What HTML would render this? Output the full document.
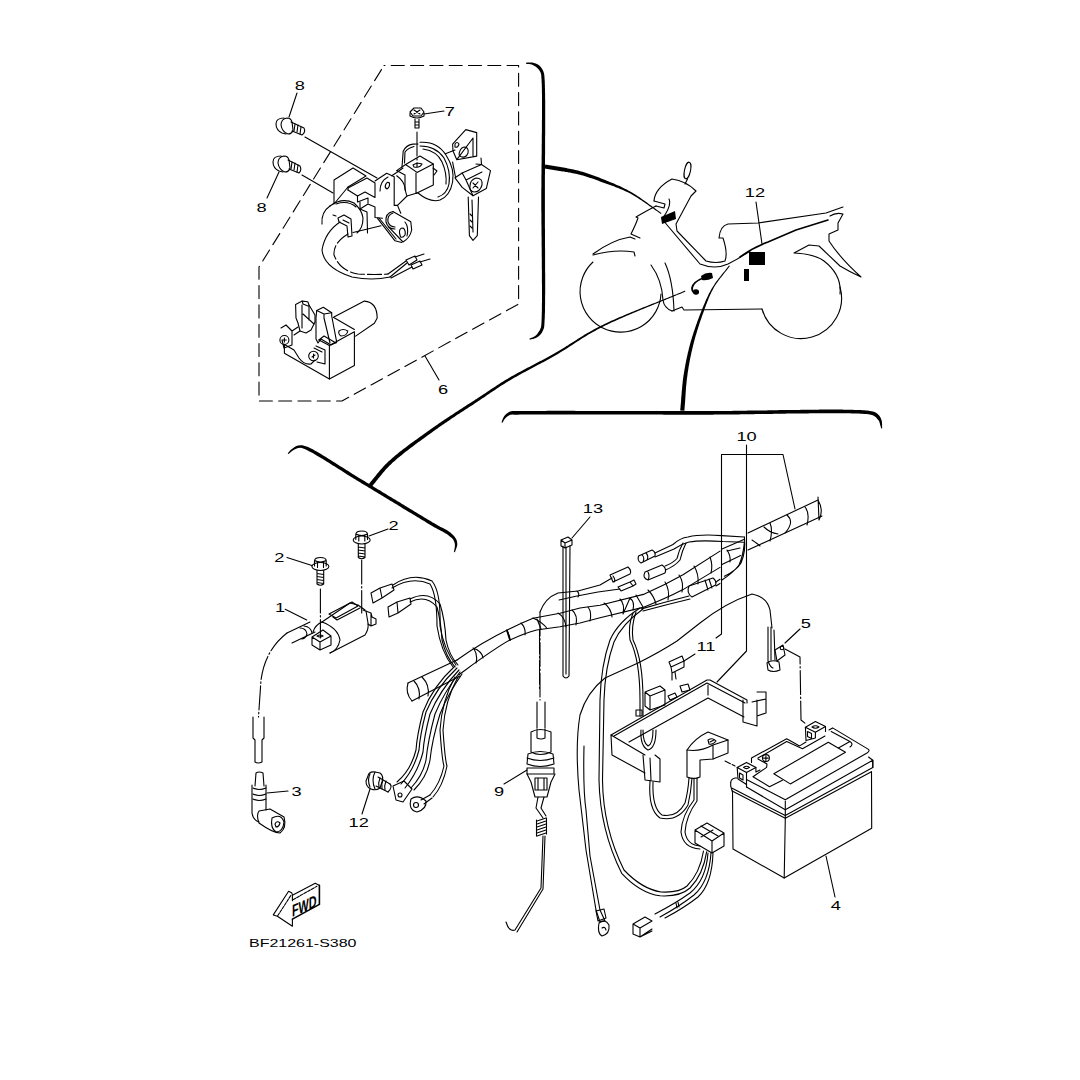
<!DOCTYPE html>
<html><head><meta charset="utf-8">
<style>
html,body{margin:0;padding:0;background:#fff;width:1080px;height:1080px;overflow:hidden}
svg{display:block}
text{font-family:"Liberation Sans",sans-serif;fill:#000}
</style></head><body>
<svg width="1080" height="1080" viewBox="0 0 1080 1080">
<rect width="1080" height="1080" fill="#fff"/>
<g fill="none" stroke="#000" stroke-width="1.1" stroke-linecap="round" stroke-linejoin="round">

<!-- ===== THICK BORDERS & CONNECTORS ===== -->
<g id="thick" fill="#000" stroke="none">
<path d="M526.0,63.7 L527.5,63.9 L529.0,64.0 L530.4,64.2 L531.8,64.6 L533.2,65.2 L534.6,65.9 L535.9,66.8 L537.0,67.7 L538.1,68.7 L539.1,69.9 L539.9,71.2 L540.6,72.6 L541.2,74.8 L541.3,76.1 L541.4,77.9 L541.6,80.1 L541.6,81.4 L541.7,82.9 L541.8,84.5 L541.8,86.3 L541.9,88.3 L541.9,90.4 L541.9,92.6 L542.0,95.0 L542.0,96.2 L542.0,97.4 L542.0,98.7 L542.0,100.1 L542.0,101.4 L542.0,102.8 L542.0,104.2 L542.0,105.6 L542.0,107.0 L542.0,108.5 L542.0,110.0 L542.0,111.5 L542.0,113.1 L542.0,114.6 L542.0,116.2 L542.0,117.8 L542.0,119.4 L541.9,121.0 L541.9,122.7 L541.9,124.4 L541.9,126.0 L541.9,127.7 L541.9,129.4 L541.9,131.1 L541.9,132.9 L541.8,134.6 L541.8,136.3 L541.8,138.1 L541.8,139.9 L541.8,141.6 L541.8,143.4 L541.7,145.2 L541.7,147.0 L541.7,148.8 L541.7,150.6 L541.7,152.3 L541.7,154.1 L541.6,155.9 L541.6,157.7 L541.6,159.5 L541.6,161.3 L541.6,163.1 L541.5,164.9 L541.5,166.7 L541.5,168.4 L541.5,170.2 L541.5,172.0 L541.5,173.7 L541.4,175.5 L541.4,177.2 L541.4,178.9 L541.4,180.6 L541.4,182.3 L541.4,184.0 L541.4,185.7 L541.4,187.4 L541.3,189.0 L541.3,190.6 L541.3,192.2 L541.3,193.8 L541.3,195.4 L541.3,197.0 L541.3,198.5 L541.3,200.0 L541.3,201.5 L541.3,203.0 L541.3,204.6 L541.3,206.2 L541.3,207.8 L541.3,209.4 L541.3,211.0 L541.4,212.6 L541.4,214.3 L541.4,215.9 L541.4,217.6 L541.4,219.3 L541.4,221.0 L541.4,222.7 L541.4,224.5 L541.5,226.2 L541.5,227.9 L541.5,229.7 L541.5,231.5 L541.5,233.2 L541.5,235.0 L541.6,236.8 L541.6,238.5 L541.6,240.3 L541.6,242.1 L541.6,243.9 L541.6,245.7 L541.7,247.5 L541.7,249.2 L541.7,251.0 L541.7,252.8 L541.7,254.6 L541.7,256.4 L541.8,258.1 L541.8,259.9 L541.8,261.6 L541.8,263.4 L541.8,265.1 L541.8,266.8 L541.8,268.6 L541.9,270.3 L541.9,272.0 L541.9,273.7 L541.9,275.3 L541.9,277.0 L541.9,278.6 L541.9,280.3 L541.9,281.9 L541.9,283.5 L542.0,285.0 L542.0,286.6 L542.0,288.1 L542.0,289.6 L542.0,291.1 L542.0,292.6 L542.0,294.1 L542.0,295.5 L542.0,296.9 L542.0,298.3 L542.0,299.6 L542.0,300.9 L542.0,302.2 L541.9,303.5 L541.9,304.7 L541.9,306.0 L541.9,308.3 L541.9,310.5 L541.8,312.5 L541.8,314.4 L541.7,316.2 L541.7,317.8 L541.6,319.3 L541.5,322.0 L541.4,323.8 L541.3,325.1 L541.0,327.3 L539.9,329.9 L539.1,331.3 L538.2,332.6 L537.3,333.9 L536.3,335.1 L535.2,336.0 L533.9,336.7 L532.4,337.4 L530.9,338.1 L529.4,338.8 L529.4,338.8 L529.8,339.8 L531.3,339.3 L532.9,338.9 L534.6,338.4 L536.2,337.8 L537.7,336.9 L539.2,335.8 L540.5,334.5 L541.7,332.9 L542.6,331.3 L543.4,329.6 L543.9,328.1 L544.2,326.8 L544.3,325.4 L544.4,323.9 L544.5,322.2 L544.6,320.1 L544.7,318.7 L544.8,317.1 L544.8,315.4 L544.9,313.6 L545.0,311.6 L545.0,309.4 L545.0,307.2 L545.1,304.8 L545.1,303.5 L545.1,302.3 L545.1,301.0 L545.1,299.6 L545.1,298.3 L545.1,296.9 L545.1,295.5 L545.2,294.1 L545.2,292.6 L545.2,291.1 L545.2,289.6 L545.2,288.1 L545.2,286.6 L545.2,285.0 L545.2,283.4 L545.2,281.9 L545.2,280.2 L545.2,278.6 L545.2,277.0 L545.2,275.3 L545.2,273.6 L545.1,272.0 L545.1,270.3 L545.1,268.5 L545.1,266.8 L545.1,265.1 L545.1,263.4 L545.1,261.6 L545.1,259.9 L545.1,258.1 L545.1,256.3 L545.1,254.6 L545.1,252.8 L545.1,251.0 L545.1,249.2 L545.0,247.4 L545.0,245.7 L545.0,243.9 L545.0,242.1 L545.0,240.3 L545.0,238.5 L545.0,236.7 L545.0,235.0 L545.0,233.2 L545.0,231.4 L545.0,229.7 L544.9,227.9 L544.9,226.2 L544.9,224.4 L544.9,222.7 L544.9,221.0 L544.9,219.3 L544.9,217.6 L544.9,215.9 L544.9,214.3 L544.9,212.6 L544.9,211.0 L544.9,209.4 L544.9,207.7 L544.9,206.2 L544.9,204.6 L544.9,203.0 L544.9,201.5 L544.9,200.0 L544.9,198.5 L544.9,197.0 L544.9,195.4 L544.9,193.8 L544.9,192.2 L544.9,190.6 L544.9,189.0 L544.9,187.4 L544.9,185.7 L544.9,184.0 L544.9,182.4 L544.9,180.7 L544.9,178.9 L544.9,177.2 L544.9,175.5 L545.0,173.7 L545.0,172.0 L545.0,170.2 L545.0,168.5 L545.0,166.7 L545.0,164.9 L545.0,163.1 L545.0,161.3 L545.0,159.6 L545.0,157.8 L545.0,156.0 L545.1,154.2 L545.1,152.4 L545.1,150.6 L545.1,148.8 L545.1,147.0 L545.1,145.2 L545.1,143.4 L545.1,141.7 L545.1,139.9 L545.1,138.1 L545.1,136.4 L545.2,134.6 L545.2,132.9 L545.2,131.2 L545.2,129.4 L545.2,127.7 L545.2,126.0 L545.2,124.4 L545.2,122.7 L545.2,121.1 L545.2,119.4 L545.2,117.8 L545.2,116.2 L545.2,114.6 L545.2,113.1 L545.2,111.5 L545.2,110.0 L545.2,108.5 L545.2,107.0 L545.2,105.6 L545.2,104.2 L545.2,102.8 L545.2,101.4 L545.2,100.0 L545.1,98.7 L545.1,97.4 L545.1,96.2 L545.1,94.9 L545.1,93.7 L545.0,91.4 L545.0,89.2 L544.9,87.2 L544.9,85.3 L544.8,83.6 L544.8,82.0 L544.7,80.5 L544.5,77.7 L544.4,75.9 L544.2,74.4 L543.9,72.9 L543.4,71.4 L542.6,69.7 L541.5,68.1 L540.3,66.6 L539.0,65.3 L537.4,64.3 L535.7,63.6 L534.0,63.0 L532.2,62.6 L530.6,62.5 L529.0,62.5 L527.5,62.6 L526.0,62.7 L526.0,62.7Z"/>
<path d="M544.5,168.6 L546.0,168.8 L547.5,169.1 L549.0,169.3 L550.5,169.5 L552.1,169.8 L553.6,170.0 L555.1,170.2 L556.6,170.5 L558.1,170.7 L559.6,170.9 L561.2,171.2 L562.7,171.4 L564.2,171.6 L565.6,171.9 L567.1,172.1 L568.6,172.4 L570.0,172.6 L571.5,172.9 L572.9,173.2 L574.3,173.5 L575.7,173.8 L577.1,174.1 L578.4,174.4 L580.0,174.8 L581.5,175.2 L583.0,175.6 L584.4,176.1 L585.9,176.5 L587.3,177.0 L588.8,177.4 L590.2,177.9 L591.6,178.3 L593.0,178.8 L594.4,179.3 L595.8,179.8 L597.2,180.3 L598.6,180.8 L600.0,181.4 L601.4,181.9 L602.8,182.4 L604.3,182.9 L605.7,183.4 L607.2,184.0 L608.6,184.5 L610.1,185.0 L611.5,185.5 L613.0,186.1 L614.4,186.6 L615.8,187.2 L617.3,187.7 L618.7,188.3 L620.1,188.9 L621.6,189.5 L623.0,190.1 L624.4,190.8 L625.9,191.4 L627.3,192.1 L628.8,192.8 L630.3,193.6 L631.5,194.3 L632.8,195.0 L634.0,195.7 L635.3,196.4 L636.6,197.2 L637.8,198.0 L639.1,198.9 L640.4,199.7 L641.7,200.5 L642.9,201.4 L644.2,202.3 L645.5,203.2 L646.8,204.1 L648.1,205.0 L649.3,205.9 L650.6,206.8 L651.9,207.7 L653.2,208.6 L654.5,209.5 L655.8,210.4 L657.1,211.3 L658.4,212.2 L659.6,213.1 L660.9,213.9 L660.9,213.9 L661.5,213.1 L660.2,212.2 L659.0,211.3 L657.7,210.4 L656.4,209.5 L655.2,208.6 L653.9,207.7 L652.6,206.7 L651.4,205.8 L650.1,204.9 L648.8,203.9 L647.6,203.0 L646.3,202.1 L645.0,201.2 L643.7,200.3 L642.5,199.4 L641.2,198.5 L639.9,197.6 L638.7,196.8 L637.4,195.9 L636.1,195.1 L634.9,194.3 L633.6,193.5 L632.4,192.7 L631.1,192.0 L629.7,191.2 L628.2,190.4 L626.8,189.6 L625.4,188.9 L623.9,188.2 L622.5,187.5 L621.1,186.8 L619.6,186.1 L618.2,185.5 L616.8,184.9 L615.3,184.2 L613.9,183.6 L612.5,183.0 L611.1,182.5 L609.6,181.9 L608.2,181.3 L606.8,180.7 L605.3,180.1 L603.9,179.5 L602.5,178.9 L601.1,178.4 L599.7,177.8 L598.3,177.3 L596.9,176.7 L595.5,176.2 L594.1,175.7 L592.7,175.2 L591.3,174.7 L589.8,174.2 L588.4,173.7 L586.9,173.2 L585.4,172.7 L584.0,172.3 L582.4,171.8 L580.9,171.4 L579.4,171.0 L578.0,170.6 L576.5,170.2 L575.1,169.9 L573.7,169.6 L572.2,169.3 L570.8,169.0 L569.3,168.7 L567.8,168.4 L566.3,168.1 L564.8,167.8 L563.3,167.6 L561.8,167.3 L560.3,167.0 L558.8,166.8 L557.2,166.5 L555.7,166.3 L554.2,166.0 L552.7,165.8 L551.2,165.5 L549.7,165.2 L548.2,165.0 L546.7,164.7 L545.3,164.4 L545.3,164.4Z"/>
<path d="M371.9,486.5 L372.9,485.3 L373.9,484.1 L374.9,483.0 L375.8,481.8 L376.7,480.6 L377.6,479.5 L378.5,478.3 L379.4,477.2 L380.4,476.0 L381.3,474.9 L382.2,473.7 L383.2,472.6 L384.2,471.4 L385.2,470.3 L386.2,469.1 L387.3,467.9 L388.5,466.7 L389.6,465.6 L390.9,464.4 L391.8,463.5 L392.7,462.6 L393.7,461.7 L394.7,460.9 L395.7,460.0 L396.8,459.1 L397.9,458.1 L399.0,457.2 L400.1,456.3 L401.2,455.4 L402.4,454.4 L403.5,453.5 L404.7,452.6 L405.9,451.6 L407.1,450.7 L408.4,449.7 L409.6,448.8 L410.9,447.8 L412.1,446.9 L413.4,445.9 L414.6,445.0 L415.9,444.0 L417.2,443.1 L418.5,442.1 L419.8,441.2 L421.1,440.3 L422.4,439.3 L423.6,438.4 L424.9,437.4 L426.2,436.5 L427.5,435.6 L428.7,434.7 L430.0,433.8 L431.2,432.9 L432.5,432.0 L433.7,431.1 L434.9,430.2 L436.2,429.3 L437.5,428.4 L438.7,427.5 L440.0,426.6 L441.3,425.7 L442.6,424.8 L443.9,423.9 L445.2,423.0 L446.5,422.2 L447.8,421.3 L449.1,420.4 L450.4,419.5 L451.7,418.6 L453.0,417.8 L454.3,416.9 L455.6,416.0 L456.9,415.1 L458.2,414.3 L459.5,413.4 L460.8,412.6 L462.1,411.7 L463.4,410.9 L464.7,410.1 L465.9,409.2 L467.2,408.4 L468.5,407.6 L469.7,406.8 L470.9,406.0 L472.2,405.2 L473.4,404.4 L474.6,403.6 L475.8,402.8 L477.0,402.0 L478.1,401.2 L479.3,400.5 L480.7,399.5 L482.0,398.6 L483.4,397.7 L484.7,396.9 L485.9,396.0 L487.2,395.1 L488.4,394.3 L489.6,393.5 L490.9,392.6 L492.1,391.8 L493.3,391.0 L494.5,390.2 L495.7,389.4 L496.9,388.6 L498.1,387.8 L499.3,387.0 L500.6,386.1 L501.9,385.3 L503.2,384.5 L504.5,383.7 L505.8,382.8 L507.2,382.0 L508.7,381.1 L509.8,380.4 L511.0,379.7 L512.2,379.0 L513.4,378.3 L514.6,377.6 L515.9,376.9 L517.1,376.2 L518.4,375.5 L519.7,374.8 L521.0,374.1 L522.3,373.3 L523.6,372.6 L525.0,371.9 L526.3,371.2 L527.6,370.5 L529.0,369.7 L530.4,369.0 L531.7,368.3 L533.1,367.5 L534.5,366.8 L535.9,366.1 L537.2,365.3 L538.6,364.6 L540.0,363.9 L541.4,363.1 L542.7,362.4 L544.1,361.7 L545.5,360.9 L546.8,360.2 L548.2,359.4 L549.5,358.7 L550.9,357.9 L552.2,357.2 L553.5,356.4 L554.8,355.7 L556.1,354.9 L557.5,354.2 L558.8,353.4 L560.1,352.6 L561.4,351.8 L562.6,351.0 L563.9,350.2 L565.2,349.5 L566.4,348.7 L567.6,347.9 L568.9,347.1 L570.1,346.3 L571.3,345.5 L572.5,344.7 L573.7,343.9 L575.0,343.1 L576.2,342.3 L577.4,341.5 L578.7,340.7 L579.9,339.9 L581.2,339.1 L582.4,338.3 L583.7,337.5 L585.0,336.7 L586.3,335.9 L587.6,335.1 L588.9,334.3 L590.3,333.5 L591.7,332.8 L593.0,332.0 L594.5,331.2 L595.9,330.4 L597.4,329.6 L598.9,328.8 L600.4,328.0 L601.6,327.4 L602.7,326.8 L603.9,326.2 L605.1,325.6 L606.3,325.0 L607.6,324.4 L608.8,323.8 L610.1,323.2 L611.3,322.6 L612.6,322.0 L613.9,321.5 L615.2,320.9 L616.5,320.3 L617.9,319.7 L619.2,319.1 L620.5,318.5 L621.9,317.9 L623.3,317.3 L624.7,316.7 L626.0,316.1 L627.4,315.5 L628.8,314.9 L630.2,314.3 L631.7,313.7 L633.1,313.1 L634.5,312.5 L635.9,311.9 L637.4,311.3 L638.8,310.7 L640.3,310.1 L641.7,309.5 L643.2,308.9 L644.7,308.3 L646.1,307.7 L647.6,307.1 L649.1,306.5 L650.5,305.9 L652.0,305.3 L653.5,304.7 L655.0,304.1 L656.4,303.5 L657.9,302.9 L659.4,302.3 L660.9,301.7 L662.3,301.1 L663.8,300.5 L665.3,299.9 L666.7,299.3 L668.2,298.7 L669.7,298.1 L671.1,297.5 L672.6,296.9 L674.0,296.3 L675.5,295.7 L676.9,295.1 L678.3,294.6 L679.8,294.0 L681.2,293.4 L682.6,292.8 L684.0,292.2 L685.4,291.6 L685.4,291.6 L685.0,290.6 L683.6,291.2 L682.2,291.8 L680.8,292.4 L679.4,293.0 L677.9,293.6 L676.5,294.2 L675.0,294.7 L673.6,295.3 L672.1,295.9 L670.7,296.5 L669.2,297.1 L667.8,297.7 L666.3,298.3 L664.8,298.8 L663.4,299.4 L661.9,300.0 L660.4,300.6 L658.9,301.2 L657.4,301.8 L656.0,302.4 L654.5,303.0 L653.0,303.5 L651.5,304.1 L650.0,304.7 L648.6,305.3 L647.1,305.9 L645.6,306.5 L644.2,307.1 L642.7,307.6 L641.2,308.2 L639.8,308.8 L638.3,309.4 L636.9,310.0 L635.4,310.6 L634.0,311.2 L632.5,311.8 L631.1,312.3 L629.7,312.9 L628.3,313.5 L626.8,314.1 L625.4,314.7 L624.1,315.3 L622.7,315.9 L621.3,316.5 L619.9,317.0 L618.6,317.6 L617.2,318.2 L615.9,318.8 L614.6,319.4 L613.2,320.0 L611.9,320.6 L610.6,321.1 L609.4,321.7 L608.1,322.3 L606.8,322.9 L605.6,323.5 L604.4,324.1 L603.2,324.7 L602.0,325.2 L600.8,325.8 L599.6,326.4 L598.1,327.2 L596.5,328.0 L595.1,328.8 L593.6,329.6 L592.2,330.4 L590.7,331.2 L589.4,332.0 L588.0,332.8 L586.6,333.5 L585.3,334.3 L584.0,335.1 L582.7,335.9 L581.4,336.7 L580.1,337.5 L578.9,338.3 L577.6,339.1 L576.4,339.9 L575.1,340.7 L573.9,341.4 L572.7,342.2 L571.4,343.0 L570.2,343.8 L569.0,344.6 L567.8,345.4 L566.5,346.1 L565.3,346.9 L564.0,347.7 L562.8,348.5 L561.5,349.2 L560.3,350.0 L559.0,350.8 L557.7,351.5 L556.4,352.3 L555.1,353.1 L553.8,353.8 L552.5,354.5 L551.1,355.3 L549.8,356.0 L548.5,356.7 L547.1,357.5 L545.8,358.2 L544.4,358.9 L543.0,359.7 L541.7,360.4 L540.3,361.1 L538.9,361.8 L537.5,362.6 L536.1,363.3 L534.8,364.0 L533.4,364.7 L532.0,365.5 L530.6,366.2 L529.3,366.9 L527.9,367.6 L526.5,368.3 L525.2,369.1 L523.8,369.8 L522.5,370.5 L521.1,371.2 L519.8,371.9 L518.5,372.6 L517.2,373.3 L515.9,374.0 L514.6,374.7 L513.4,375.4 L512.1,376.1 L510.9,376.8 L509.7,377.5 L508.5,378.2 L507.3,378.9 L505.9,379.8 L504.5,380.6 L503.1,381.5 L501.8,382.3 L500.5,383.1 L499.2,383.9 L497.9,384.7 L496.7,385.5 L495.4,386.4 L494.2,387.2 L493.0,388.0 L491.8,388.8 L490.6,389.6 L489.3,390.4 L488.1,391.2 L486.9,392.0 L485.7,392.9 L484.4,393.7 L483.1,394.6 L481.8,395.4 L480.5,396.3 L479.1,397.2 L477.7,398.1 L476.6,398.9 L475.4,399.6 L474.2,400.4 L473.0,401.2 L471.8,402.0 L470.6,402.7 L469.4,403.5 L468.1,404.3 L466.9,405.1 L465.6,406.0 L464.3,406.8 L463.1,407.6 L461.8,408.4 L460.5,409.3 L459.2,410.1 L457.9,410.9 L456.6,411.8 L455.3,412.6 L454.0,413.5 L452.6,414.4 L451.3,415.2 L450.0,416.1 L448.7,417.0 L447.4,417.8 L446.0,418.7 L444.7,419.6 L443.4,420.5 L442.1,421.3 L440.8,422.2 L439.5,423.1 L438.2,424.0 L436.9,424.9 L435.6,425.8 L434.3,426.7 L433.1,427.6 L431.8,428.5 L430.6,429.3 L429.3,430.2 L428.1,431.1 L426.8,432.0 L425.5,432.9 L424.3,433.8 L423.0,434.7 L421.7,435.7 L420.4,436.6 L419.1,437.5 L417.8,438.4 L416.5,439.4 L415.2,440.3 L413.9,441.3 L412.6,442.2 L411.3,443.1 L410.0,444.1 L408.7,445.0 L407.5,446.0 L406.2,446.9 L405.0,447.9 L403.7,448.8 L402.5,449.8 L401.3,450.7 L400.1,451.6 L398.9,452.6 L397.8,453.5 L396.6,454.4 L395.5,455.3 L394.4,456.3 L393.3,457.2 L392.3,458.1 L391.3,459.0 L390.3,459.9 L389.3,460.8 L388.3,461.6 L387.0,462.9 L385.8,464.1 L384.6,465.3 L383.4,466.5 L382.4,467.7 L381.3,468.9 L380.3,470.1 L379.3,471.3 L378.3,472.4 L377.3,473.6 L376.4,474.7 L375.5,475.9 L374.6,477.0 L373.6,478.2 L372.7,479.3 L371.8,480.5 L370.8,481.6 L369.9,482.7 L368.9,483.9 L368.9,483.9Z"/>
<path d="M684.4,410.8 L684.5,409.3 L684.6,407.7 L684.7,406.2 L684.8,404.7 L685.0,403.2 L685.1,401.6 L685.2,400.1 L685.3,398.6 L685.4,397.1 L685.5,395.6 L685.6,394.0 L685.7,392.5 L685.8,391.0 L685.9,389.5 L686.0,388.0 L686.1,386.5 L686.3,385.0 L686.4,383.5 L686.6,382.0 L686.7,380.6 L686.9,379.1 L687.1,377.6 L687.3,376.2 L687.5,374.6 L687.7,373.1 L687.9,371.6 L688.2,370.1 L688.4,368.6 L688.6,367.1 L688.9,365.6 L689.2,364.1 L689.4,362.6 L689.7,361.1 L690.0,359.6 L690.3,358.1 L690.6,356.6 L690.9,355.2 L691.2,353.7 L691.5,352.2 L691.9,350.7 L692.2,349.3 L692.6,347.8 L692.9,346.3 L693.3,344.8 L693.6,343.4 L694.0,341.9 L694.4,340.5 L694.8,339.0 L695.2,337.6 L695.6,336.1 L696.0,334.7 L696.5,333.2 L696.9,331.8 L697.3,330.3 L697.8,328.9 L698.2,327.4 L698.7,326.0 L699.2,324.5 L699.6,323.1 L700.1,321.7 L700.6,320.3 L701.1,318.9 L701.6,317.5 L702.1,316.1 L702.5,314.8 L703.0,313.4 L703.6,311.9 L704.1,310.4 L704.6,309.0 L705.2,307.5 L705.7,306.1 L706.2,304.6 L706.8,303.2 L707.3,301.8 L707.9,300.4 L708.4,299.0 L709.0,297.6 L709.6,296.2 L710.2,294.8 L710.9,293.5 L711.5,292.1 L712.2,290.8 L712.9,289.5 L713.6,288.1 L714.3,286.8 L715.1,285.5 L715.9,284.3 L716.8,283.0 L717.7,281.8 L718.6,280.5 L719.5,279.3 L720.4,278.1 L721.4,276.9 L722.3,275.7 L723.3,274.5 L724.2,273.3 L725.2,272.1 L726.1,270.9 L727.1,269.7 L728.0,268.5 L729.0,267.2 L729.9,266.0 L729.9,266.0 L729.1,265.4 L728.2,266.6 L727.2,267.8 L726.3,269.0 L725.3,270.2 L724.4,271.4 L723.4,272.6 L722.4,273.8 L721.4,275.0 L720.5,276.2 L719.5,277.4 L718.6,278.6 L717.6,279.9 L716.7,281.1 L715.8,282.3 L714.9,283.6 L714.1,284.9 L713.2,286.2 L712.4,287.5 L711.6,288.8 L710.9,290.1 L710.1,291.4 L709.4,292.8 L708.7,294.1 L708.1,295.5 L707.4,296.9 L706.8,298.2 L706.1,299.6 L705.5,301.0 L704.9,302.4 L704.3,303.9 L703.7,305.3 L703.1,306.7 L702.5,308.2 L701.9,309.6 L701.4,311.1 L700.8,312.6 L700.2,313.9 L699.7,315.3 L699.2,316.6 L698.7,318.0 L698.1,319.4 L697.6,320.8 L697.1,322.2 L696.6,323.7 L696.1,325.1 L695.6,326.5 L695.1,328.0 L694.6,329.4 L694.1,330.9 L693.6,332.3 L693.2,333.8 L692.7,335.3 L692.2,336.7 L691.8,338.2 L691.4,339.6 L690.9,341.1 L690.5,342.5 L690.1,344.0 L689.7,345.5 L689.3,347.0 L688.9,348.5 L688.6,349.9 L688.2,351.4 L687.8,352.9 L687.5,354.4 L687.2,355.9 L686.8,357.4 L686.5,358.9 L686.2,360.4 L685.9,361.9 L685.6,363.4 L685.3,364.9 L685.1,366.4 L684.8,368.0 L684.5,369.5 L684.3,371.0 L684.0,372.5 L683.8,374.1 L683.5,375.6 L683.3,377.1 L683.1,378.6 L682.9,380.1 L682.7,381.6 L682.6,383.1 L682.4,384.6 L682.3,386.1 L682.1,387.7 L682.0,389.2 L681.8,390.7 L681.7,392.2 L681.6,393.7 L681.5,395.3 L681.3,396.8 L681.2,398.3 L681.1,399.8 L681.0,401.4 L680.9,402.9 L680.7,404.4 L680.6,405.9 L680.5,407.4 L680.3,408.9 L680.2,410.4 L680.2,410.4Z"/>
<path d="M288.5,454.1 L289.8,452.9 L291.1,451.7 L292.5,450.7 L294.0,449.8 L295.6,448.9 L297.2,448.3 L298.8,447.9 L300.3,447.8 L301.8,448.0 L304.0,448.7 L305.2,449.2 L306.8,450.0 L308.5,450.9 L310.5,451.9 L311.6,452.5 L312.7,453.1 L313.8,453.8 L315.0,454.5 L316.2,455.2 L317.5,455.9 L318.8,456.7 L320.1,457.4 L321.4,458.3 L322.8,459.1 L324.2,459.9 L325.6,460.8 L327.0,461.7 L328.5,462.6 L329.9,463.5 L331.4,464.4 L332.9,465.4 L334.4,466.3 L335.9,467.3 L337.4,468.2 L338.9,469.2 L340.4,470.1 L341.9,471.1 L343.4,472.0 L344.9,473.0 L346.4,473.9 L347.9,474.9 L349.3,475.8 L350.8,476.7 L352.2,477.6 L353.7,478.5 L355.1,479.3 L356.5,480.2 L357.8,481.0 L359.1,481.8 L360.4,482.6 L361.7,483.4 L363.1,484.2 L364.4,485.0 L365.8,485.8 L367.1,486.6 L368.5,487.5 L369.9,488.3 L371.3,489.1 L372.7,490.0 L374.2,490.9 L375.6,491.7 L377.0,492.6 L378.4,493.5 L379.9,494.3 L381.3,495.2 L382.8,496.1 L384.2,496.9 L385.6,497.8 L387.1,498.7 L388.5,499.5 L389.9,500.4 L391.3,501.3 L392.7,502.1 L394.1,503.0 L395.5,503.8 L396.9,504.6 L398.3,505.5 L399.6,506.3 L400.9,507.1 L402.2,507.9 L403.5,508.7 L404.8,509.4 L406.1,510.2 L407.3,511.0 L408.5,511.7 L409.7,512.4 L410.9,513.1 L412.0,513.8 L413.1,514.5 L414.2,515.1 L415.3,515.8 L417.3,517.0 L419.1,518.1 L420.9,519.2 L422.6,520.2 L424.1,521.1 L425.6,522.0 L427.0,522.9 L428.3,523.7 L429.6,524.5 L430.9,525.2 L432.2,526.0 L433.4,526.7 L434.6,527.4 L435.9,528.1 L437.4,529.0 L439.0,529.8 L440.4,530.5 L441.9,531.3 L443.2,532.0 L444.5,532.7 L445.7,533.4 L446.8,534.1 L448.4,535.3 L449.8,536.4 L451.2,537.5 L452.3,538.6 L453.2,539.6 L454.0,541.2 L454.6,542.7 L454.9,544.5 L454.9,545.7 L454.8,547.2 L454.5,548.8 L454.2,550.4 L453.9,552.1 L453.9,552.1 L454.9,552.3 L455.4,550.8 L456.0,549.2 L456.6,547.6 L457.1,546.0 L457.3,544.3 L457.1,542.2 L456.6,540.1 L455.6,538.2 L454.6,536.7 L453.3,535.3 L451.9,533.9 L450.4,532.6 L448.8,531.5 L447.5,530.6 L446.1,529.8 L444.8,529.0 L443.4,528.3 L441.9,527.6 L440.5,526.9 L439.0,526.1 L437.5,525.3 L436.3,524.6 L435.1,523.8 L433.8,523.1 L432.6,522.4 L431.3,521.6 L430.0,520.8 L428.7,520.0 L427.3,519.2 L425.8,518.3 L424.3,517.4 L422.6,516.3 L420.9,515.3 L419.0,514.2 L417.0,512.9 L415.9,512.3 L414.8,511.7 L413.7,511.0 L412.6,510.3 L411.4,509.6 L410.2,508.9 L409.0,508.1 L407.8,507.4 L406.5,506.6 L405.3,505.9 L404.0,505.1 L402.6,504.3 L401.3,503.5 L400.0,502.6 L398.6,501.8 L397.2,501.0 L395.8,500.1 L394.4,499.3 L393.0,498.4 L391.6,497.6 L390.2,496.7 L388.8,495.9 L387.3,495.0 L385.9,494.1 L384.5,493.2 L383.0,492.4 L381.6,491.5 L380.2,490.6 L378.7,489.8 L377.3,488.9 L375.9,488.0 L374.4,487.2 L373.0,486.3 L371.6,485.5 L370.2,484.6 L368.8,483.8 L367.5,483.0 L366.1,482.2 L364.8,481.3 L363.4,480.5 L362.1,479.8 L360.9,479.0 L359.5,478.2 L358.2,477.4 L356.8,476.5 L355.4,475.7 L354.0,474.8 L352.5,473.9 L351.1,473.0 L349.6,472.1 L348.2,471.1 L346.7,470.2 L345.2,469.3 L343.7,468.3 L342.2,467.3 L340.7,466.4 L339.1,465.4 L337.6,464.5 L336.1,463.5 L334.6,462.6 L333.2,461.7 L331.7,460.7 L330.2,459.8 L328.8,458.9 L327.3,458.0 L325.9,457.1 L324.5,456.3 L323.1,455.4 L321.8,454.6 L320.5,453.8 L319.2,453.1 L317.9,452.3 L316.7,451.6 L315.5,450.9 L314.3,450.2 L313.2,449.6 L312.1,449.0 L310.0,448.0 L308.1,447.1 L306.4,446.4 L304.8,445.9 L302.3,445.3 L300.3,445.2 L298.2,445.5 L296.4,446.1 L294.6,447.1 L293.0,448.2 L291.5,449.3 L290.1,450.6 L288.9,452.0 L287.7,453.3 L287.7,453.3Z"/>
<path d="M502.3,422.8 L503.2,421.4 L504.0,420.0 L504.9,418.8 L505.9,417.7 L506.9,416.8 L508.1,415.9 L509.3,415.2 L510.5,414.8 L512.7,414.6 L514.3,414.7 L516.7,414.7 L518.3,414.7 L519.6,414.6 L520.9,414.6 L522.4,414.6 L524.0,414.6 L525.7,414.6 L527.5,414.5 L529.5,414.5 L531.5,414.5 L533.7,414.5 L535.9,414.5 L538.2,414.5 L539.5,414.5 L540.7,414.5 L541.9,414.5 L543.2,414.5 L544.5,414.5 L545.8,414.5 L547.2,414.4 L548.5,414.4 L549.9,414.4 L551.3,414.4 L552.7,414.4 L554.2,414.4 L555.6,414.4 L557.1,414.4 L558.6,414.4 L560.1,414.4 L561.6,414.4 L563.2,414.4 L564.7,414.4 L566.3,414.4 L567.9,414.4 L569.5,414.4 L571.1,414.4 L572.7,414.4 L574.4,414.4 L576.0,414.5 L577.7,414.5 L579.4,414.5 L581.1,414.5 L582.8,414.5 L584.5,414.5 L586.2,414.5 L587.9,414.5 L589.7,414.5 L591.4,414.5 L593.2,414.5 L595.0,414.5 L596.7,414.5 L598.5,414.5 L600.3,414.5 L602.1,414.5 L603.9,414.5 L605.7,414.5 L607.5,414.5 L609.3,414.5 L611.2,414.5 L613.0,414.5 L614.8,414.5 L616.6,414.5 L618.5,414.5 L620.3,414.5 L622.2,414.5 L624.0,414.6 L625.8,414.6 L627.7,414.6 L629.5,414.6 L631.4,414.6 L633.2,414.6 L635.1,414.6 L636.9,414.6 L638.7,414.6 L640.6,414.6 L642.4,414.6 L644.2,414.6 L646.1,414.6 L647.9,414.6 L649.7,414.6 L651.5,414.6 L653.3,414.6 L655.1,414.6 L656.9,414.6 L658.7,414.6 L660.5,414.6 L662.2,414.6 L664.0,414.7 L665.8,414.7 L667.5,414.7 L669.3,414.7 L671.0,414.7 L672.7,414.7 L674.4,414.7 L676.1,414.7 L677.8,414.7 L679.5,414.7 L681.1,414.7 L682.8,414.7 L684.4,414.7 L686.0,414.7 L687.7,414.7 L689.3,414.7 L690.8,414.7 L692.4,414.7 L694.0,414.7 L695.5,414.7 L697.0,414.7 L698.5,414.7 L700.0,414.7 L701.5,414.7 L703.1,414.7 L704.7,414.7 L706.3,414.7 L707.9,414.7 L709.5,414.7 L711.1,414.7 L712.8,414.7 L714.4,414.6 L716.1,414.6 L717.8,414.6 L719.5,414.6 L721.2,414.6 L722.9,414.6 L724.7,414.5 L726.4,414.5 L728.2,414.5 L729.9,414.5 L731.7,414.5 L733.5,414.4 L735.3,414.4 L737.1,414.4 L738.9,414.4 L740.7,414.3 L742.5,414.3 L744.3,414.3 L746.2,414.3 L748.0,414.2 L749.8,414.2 L751.7,414.2 L753.5,414.2 L755.4,414.1 L757.2,414.1 L759.1,414.1 L761.0,414.0 L762.8,414.0 L764.7,414.0 L766.5,414.0 L768.4,413.9 L770.2,413.9 L772.1,413.9 L773.9,413.8 L775.8,413.8 L777.6,413.8 L779.5,413.7 L781.3,413.7 L783.2,413.7 L785.0,413.7 L786.8,413.6 L788.6,413.6 L790.4,413.6 L792.3,413.6 L794.1,413.5 L795.8,413.5 L797.6,413.5 L799.4,413.5 L801.2,413.4 L802.9,413.4 L804.7,413.4 L806.4,413.4 L808.1,413.4 L809.8,413.3 L811.5,413.3 L813.2,413.3 L814.9,413.3 L816.6,413.3 L818.2,413.3 L819.8,413.2 L821.5,413.2 L823.1,413.2 L824.7,413.2 L826.2,413.2 L827.8,413.2 L829.3,413.2 L830.8,413.2 L832.3,413.2 L833.8,413.2 L835.3,413.2 L836.7,413.2 L838.1,413.2 L839.5,413.2 L840.9,413.2 L842.3,413.2 L843.6,413.3 L844.9,413.3 L846.2,413.3 L847.5,413.3 L848.7,413.3 L849.9,413.3 L852.3,413.4 L854.5,413.5 L856.7,413.5 L858.7,413.6 L860.6,413.7 L862.4,413.8 L864.1,413.9 L865.6,414.0 L867.0,414.1 L868.3,414.3 L869.9,414.5 L872.8,415.2 L874.9,416.4 L875.9,417.3 L876.8,418.3 L877.8,419.4 L878.7,420.6 L879.3,421.8 L879.8,423.3 L880.2,425.0 L880.7,426.7 L881.2,428.4 L881.2,428.4 L882.2,428.2 L882.1,426.5 L882.1,424.7 L882.0,422.9 L881.8,421.1 L881.3,419.4 L880.6,417.7 L879.6,416.1 L878.4,414.7 L877.1,413.6 L875.6,412.5 L873.9,411.8 L871.5,411.2 L869.9,410.9 L868.7,410.7 L867.4,410.6 L865.9,410.4 L864.3,410.3 L862.6,410.2 L860.8,410.1 L858.9,410.0 L856.8,409.9 L854.7,409.9 L852.4,409.8 L850.0,409.7 L848.8,409.7 L847.5,409.7 L846.3,409.7 L845.0,409.7 L843.7,409.7 L842.3,409.6 L840.9,409.6 L839.6,409.6 L838.2,409.6 L836.7,409.6 L835.3,409.6 L833.8,409.6 L832.3,409.6 L830.8,409.6 L829.3,409.6 L827.8,409.6 L826.2,409.6 L824.6,409.6 L823.1,409.6 L821.4,409.6 L819.8,409.6 L818.2,409.7 L816.5,409.7 L814.9,409.7 L813.2,409.7 L811.5,409.7 L809.8,409.7 L808.1,409.8 L806.4,409.8 L804.6,409.8 L802.9,409.8 L801.1,409.8 L799.4,409.9 L797.6,409.9 L795.8,409.9 L794.0,409.9 L792.2,410.0 L790.4,410.0 L788.6,410.0 L786.8,410.0 L784.9,410.1 L783.1,410.1 L781.3,410.1 L779.4,410.1 L777.6,410.2 L775.7,410.2 L773.9,410.2 L772.0,410.3 L770.2,410.3 L768.3,410.3 L766.5,410.4 L764.6,410.4 L762.8,410.4 L760.9,410.4 L759.0,410.5 L757.2,410.5 L755.3,410.5 L753.5,410.6 L751.6,410.6 L749.8,410.6 L748.0,410.6 L746.1,410.7 L744.3,410.7 L742.5,410.7 L740.6,410.7 L738.8,410.8 L737.0,410.8 L735.2,410.8 L733.4,410.8 L731.7,410.9 L729.9,410.9 L728.1,410.9 L726.4,410.9 L724.6,410.9 L722.9,411.0 L721.2,411.0 L719.5,411.0 L717.8,411.0 L716.1,411.0 L714.4,411.0 L712.7,411.1 L711.1,411.1 L709.5,411.1 L707.8,411.1 L706.2,411.1 L704.7,411.1 L703.1,411.1 L701.5,411.1 L700.0,411.1 L698.5,411.1 L697.0,411.1 L695.5,411.1 L694.0,411.1 L692.4,411.1 L690.8,411.1 L689.3,411.1 L687.7,411.1 L686.1,411.1 L684.4,411.1 L682.8,411.1 L681.1,411.1 L679.5,411.1 L677.8,411.1 L676.1,411.1 L674.4,411.1 L672.7,411.1 L671.0,411.1 L669.3,411.1 L667.5,411.1 L665.8,411.1 L664.0,411.1 L662.2,411.0 L660.5,411.0 L658.7,411.0 L656.9,411.0 L655.1,411.0 L653.3,411.0 L651.5,411.0 L649.7,411.0 L647.9,411.0 L646.1,411.0 L644.2,411.0 L642.4,411.0 L640.6,411.0 L638.7,411.0 L636.9,411.0 L635.1,411.0 L633.2,411.0 L631.4,411.0 L629.5,411.0 L627.7,411.0 L625.9,411.0 L624.0,411.0 L622.2,410.9 L620.3,410.9 L618.5,410.9 L616.7,410.9 L614.8,410.9 L613.0,410.9 L611.2,410.9 L609.3,410.9 L607.5,410.9 L605.7,410.9 L603.9,410.9 L602.1,410.9 L600.3,410.9 L598.5,410.9 L596.7,410.9 L595.0,410.9 L593.2,410.9 L591.4,410.9 L589.7,410.9 L587.9,410.9 L586.2,410.9 L584.5,410.9 L582.8,410.9 L581.1,410.9 L579.4,410.9 L577.7,410.9 L576.0,410.9 L574.4,410.8 L572.7,410.8 L571.1,410.8 L569.5,410.8 L567.9,410.8 L566.3,410.8 L564.7,410.8 L563.2,410.8 L561.6,410.8 L560.1,410.8 L558.6,410.8 L557.1,410.8 L555.6,410.8 L554.2,410.8 L552.7,410.8 L551.3,410.8 L549.9,410.8 L548.5,410.8 L547.2,410.8 L545.8,410.9 L544.5,410.9 L543.2,410.9 L541.9,410.9 L540.7,410.9 L539.4,410.9 L538.2,410.9 L535.9,410.9 L533.6,410.9 L531.5,410.9 L529.4,410.9 L527.5,410.9 L525.7,411.0 L523.9,411.0 L522.3,411.0 L520.9,411.0 L519.5,411.0 L518.3,411.1 L516.7,411.1 L514.4,411.1 L512.7,411.1 L511.1,411.3 L509.5,411.8 L507.9,412.7 L506.5,413.7 L505.2,415.0 L504.1,416.3 L503.3,417.8 L502.6,419.3 L502.0,420.9 L501.5,422.4 L501.5,422.4Z"/>
</g>


<!-- ===== DASHED BOX 6 ===== -->
<path d="M384,65.5 L518.6,65.5 L518.6,304 L342,401 L259,401 L259,267 Z" stroke-dasharray="13,6.3" stroke-dashoffset="12"/>

<!-- ===== SCOOTER ===== -->
<g id="scooter">
<!-- front wheel -->
<path d="M593,262 A40.5,40.5 0 1 0 661,294"/>
<!-- rear wheel -->
<path d="M840,287 A40.5,40.5 0 1 1 762,309"/>
<!-- bottom line -->
<path d="M672,311 L682,307 L684,310 L762,309"/>
<!-- fork -->
<path d="M651,265 Q662,280 663,300 Q664,308 672,311"/>
<path d="M665,263 Q673,280 674,311"/>
<!-- front fender -->
<path d="M593,254 Q612,240 630,237 L635,239"/>
<path d="M593,255 Q615,249 634,252 L635,256"/>
<!-- cowl -->
<path d="M631,234 L640,238 M631,234 Q636,224 638,218 L636,217 Q648,210 656,206"/>
<!-- headlight cover -->
<path d="M654,201 Q655,188 672,179 Q686,181 696,191 L691,196 L676,224 L677,231 L706,261 Q716,264 725,261 Q728,253 723,238 L719,238 Q720,226 728,224 L758,223 L826,213 L843,207"/>
<path d="M654,201 L665,204 L664,208 L656,206"/>
<path d="M669,199 Q672,206 662,219 L700,264 Q715,270 728,264 Q740,258 750,251"/>
<path d="M740,257 Q752,248 768,242 L796,230 L828,220" stroke-width="1.6"/>
<path d="M687.5,179 L685,184"/><ellipse cx="687.5" cy="170.5" rx="3" ry="8.5" transform="rotate(12 687.5 170.5)"/>
<!-- tail -->
<path d="M830,216 Q836,212 843,214 L838,223 L838,230 L829,234 L829,241 Q840,258 861,277 Q850,272 840,266 L819,246 L809,245 L794,253 Q815,254 824,261 Q842,275 840,294"/>
<!-- marks -->
<path d="M687,290 L700,277" stroke-width="0"/>
</g>
<g fill="#000" stroke="none">
<rect x="749" y="252" width="16" height="13"/>
<rect x="744" y="269" width="5" height="12"/>
<path d="M661,217 L675,211 L676,219 L662,224 Z"/>
<path d="M701,276 Q706,272 712,273 L713,278 Q707,281 702,280 Z"/>
</g>
<path d="M703,278 Q693,282 692,288 Q692,292 695,293" stroke-width="1.8"/><ellipse cx="696" cy="292" rx="2.5" ry="2.2" fill="#000"/>
<path d="M756,202 L762,244"/>

<!-- ===== IGNITION SWITCH AREA ===== -->
<g id="switch">
<!-- bolts 8 -->
<path d="M297,93 L289,117"/>
<path d="M279,172 L267,198"/>
<path d="M305,137 L377,178"/>
<path d="M302,175 L333,193"/>
<path d="M284,118 Q276,118 276,124 Q276,130 282,133 L286,134"/>
<path d="M287,118 Q281,119 281,125 Q282,132 288,134 Q292,134 293,130 L292,122 Q291,118 287,118 Z"/>
<path d="M291,122 L304,128 Q306,132 302,135 L292,131"/>
<path d="M295,124 L294,131 M298,125 L297,132 M301,127 L300,134"/>
<path d="M281,156 Q273,156 273,162 Q273,168 279,171 L283,172"/>
<path d="M284,156 Q278,157 278,163 Q279,170 285,172 Q289,172 290,168 L289,160 Q288,156 284,156 Z"/>
<path d="M288,160 L300,166 Q302,170 299,173 L289,169"/>
<path d="M292,162 L291,169 M295,163 L294,170 M298,165 L297,172"/>
<!-- screw 7 -->
<path d="M410,112 L414,108 L421,108 L424,112 L421,116 L413,116 Z"/>
<path d="M410,113 L410,116 Q417,120 424,116 L424,113"/>
<path d="M414,110 L420,114 M420,110 L414,114"/>
<path d="M415,119 L415,128 L419,128 L419,119 M415,122 L419,122 M415,125 L419,125"/>
<path d="M417,132 L417,167" stroke-dasharray="24,2.5,1.5,2.5"/>
<path d="M424,114 L444,111"/>
<!-- main switch body: left block -->
<path d="M334,204 L334,180 L353,168 L366,176 L348,187 Z"/>
<path d="M348,188 L367,178 L375,183 L375,197.5 L365,192 L357.5,196 L348,190"/>
<path d="M348,187 L348,190 M357.5,196 L357.5,202 L368,198 L368,203"/>
<path d="M360,202 L360,209 L368,204 L375,207 L375,217.5 L382.5,218.3"/>
<path d="M360,209 L367,212 L367.5,233 M353,232.5 L381,225.8"/>
<!-- left disk -->
<path d="M330,206 Q342,197 354,203 Q362,210 363,218 Q363,228 357,233"/>
<path d="M330,206 Q321,212 322,224 M336,204 Q348,200 356,207 M333,215 L336,216"/>
<path d="M338,218 L344,215 L351,219 L352,236 L348,237 L347,226 L339,222 Z M343,220 L349,223"/>
<!-- plate -->
<path d="M375,181 L386.7,173.3 L394.2,176.7 L394.2,205.4 L397.5,205.4 L400.8,213.3"/>
<path d="M380,191 Q380,181 388,177"/>
<path d="M385.5,185 Q387,181 389.5,183 Q390,187 387,189 Q384.5,188 385.5,185 Z"/>
<!-- barrel -->
<path d="M391.7,175.8 L396.7,172.5 L403,168"/>
<path d="M396.7,175.8 Q404,181 405,188 Q406,194 407,196 L397.5,205.4"/>
<path d="M407,196 L417,193"/>
<!-- square block -->
<path d="M405.6,164.5 L420,156 L433.3,164 L417,172.4 Z"/>
<path d="M416,173 L416,193.4 L433.3,185 L433.3,164"/>
<path d="M413,165 Q417,162 422,164 Q420,168 414,167 Z"/>
<path d="M396.6,170.6 L405.6,164.5 M396.6,170.6 L405,175 L405,190"/>
<!-- big ring -->
<path d="M420,142.3 Q437,141 446,155 Q455,169 452.6,182 Q450,196 440,200 Q430,203 418,193"/>
<path d="M420,146 Q436,146 444,158 Q451,171 449,184 Q447,194 438,197"/>
<path d="M423,149 Q437,151 442,162 Q447,173 446,184"/>
<path d="M433,168 L437,171 L434,175"/>
<!-- wire hoop -->
<path d="M402,167 L403.2,151.3 Q406,145 412.9,144.1 L418,144"/>
<path d="M404.5,163 L405,152 Q408,148 414,146.5"/>
<!-- key head -->
<path d="M445.4,153.7 L455,150.1 M452.6,162.1 L455.5,177"/>
<path d="M452.6,144.1 L465.8,129.6 L476.7,132.6 L476.7,156.1 M452.6,144.1 L453,151 L456.8,159.7 L476.7,156.1 M456.8,159.7 L473,138 L473,156"/>
<path d="M455,144 Q457,141 459,144 Q458,148 455,147 Z"/>
<path d="M459.5,152 Q461,147 465,147 Q469,148 468,153 Q466,158 462,157 Q458,156 459.5,152 Z"/>
<path d="M455,177.8 L462.2,173 L481.5,164.5 L490.5,170.6 L486.3,188.6 L473,195.8 L462.2,187.4 Z"/>
<path d="M462.2,173 L466,180 L482,172 M466,180 L473,195.8 M476,164 L481.5,164.5 L481,158"/>
<path d="M470,186 Q470,180 476,178 Q483,178 482,185 Q480,192 474,192 Q469,191 470,186 Z"/>
<path d="M473,183 L478,188 M478,182 L473,188"/>
<!-- key blade -->
<path d="M468.2,197 L469.4,235.6 L473,240.4 L477.3,235.6 L478.5,197"/>
<path d="M472,200 L473,232 M470,220 L472,222 M470,226 L472,228 M470,214 L472,216"/>
<!-- bottom pin -->
<path d="M377.5,218.3 L395,240.8 L401.7,242.5"/>
<path d="M379,218 L396,239"/>
<path d="M393,211.5 Q385,213 386,222 Q388,229 395,229"/>
<path d="M393,213 Q387,215 388,222 Q390,227 395,227"/>
<path d="M393.3,211.7 L410.8,221.7 L411.7,230 Q410,238 403,242 L388.3,226.7"/>
<path d="M399.5,233 Q399,228 403,228 Q406,230 405,235 Q403,238 400.5,237 Z"/>
<path d="M405,222 Q409,227 407,236"/>
<!-- cable -->
<path d="M340,222 Q325,232 322,250 Q324,268 352,277 Q372,281 390,277"/>
<path d="M348,234 Q333,243 334,255 Q340,271 358,274 Q375,275 388,274" stroke-dasharray="14,3"/>
<path d="M390,277 L407,263 M388,274 L406,261 M391,278 L412,267"/>
<path d="M406,260 L415,256 L417,260 L409,265 Z M415,257 L424,254"/>
<path d="M411,265 L420,261 L422,265 L413,269 Z M420,262 L430,259"/>
<!-- lower block -->
<path d="M329.4,345.6 L354.4,331.7 L354.4,365.6 L329.4,378.9 Z"/>
<path d="M329.4,378.9 L284.4,353.3 L284.4,344.4"/>
<path d="M329.4,345.6 L318.9,340 M333.3,317.2 L354.4,329.4"/>
<path d="M334.4,316.7 L364.4,301.1 Q377,302 377.2,318 L374.4,323.3 L355.6,336.1"/>
<path d="M295.6,304.4 L302.2,301.1 L307.8,301.7 L309,305 L315,315 L315,322 L311,330 L306,333 L300,331 L298,323 L296,318 Z"/>
<path d="M302,305 L302,328 M302.2,301.1 L303,304 L308,306 M303,314 L314,324 M309,305 L309,320"/>
<path d="M316.7,310.6 L323.3,307.2 L331.7,312.8 L331.7,316 L336.7,342.2 L331,345 L321,339 L318,343 L316,339 L316,318 Z"/>
<path d="M316.7,310.6 L324,314 L331.7,312.8 M324,314 L324,318 L330,343"/>
<path d="M292,331 L298,327 M294,335 L300,331 M281,328 L286,325 L292,331 L292,345 L284,348 L282,340"/>
<circle cx="284.4" cy="340" r="4.5"/>
<path d="M282.5,340 L286.3,340 M284.4,338 L284.4,342"/>
<path d="M284.4,344.4 L294,350 L299,358 Q304,365 311,364 L315,360"/>
<path d="M316,346 L325,350 L325,364 L317,362 M314,348 L322,352"/>
<circle cx="313.5" cy="356" r="4.8"/>
<path d="M312,357 L315,355 M313.5,354 L313.5,358"/>
<path d="M339,331 Q343,328 347.8,331 Q347,336 341,336 Q338,334 339,331 Z"/>
<path d="M318.9,340 L324,336 L336,343"/>
<!-- leader 6 -->
<path d="M425,356 L439,380"/>
</g>

<!-- ===== COIL AREA ===== -->
<g id="coil">
<!-- bolts 2 -->
<path d="M369,536 L388,529"/>
<path d="M287,557.4 L311.9,565.6"/>
<path d="M285.2,609.3 L306.7,620"/>
<g>
<ellipse cx="320.4" cy="566.5" rx="8.5" ry="4"/>
<path d="M314.5,566 L314.5,560.5 Q315,557.5 320.4,557.5 Q326,557.5 326.2,560.5 L326.2,566 M314.5,560.5 Q320.4,563.5 326.2,560.5 M317.5,562.5 L317.5,567.5 M323.5,562.5 L323.5,567.5"/>
<path d="M317,570.5 L317,584 Q320.4,586.5 323.7,584 L323.7,570.5 M317,573.5 L323.7,574.5 M317,576.5 L323.7,577.5 M317,579.5 L323.7,580.5 M317,582.5 L323.7,583.5"/>
</g>
<g transform="translate(41.3,-26.5)"><g>
<ellipse cx="320.4" cy="566.5" rx="8.5" ry="4"/>
<path d="M314.5,566 L314.5,560.5 Q315,557.5 320.4,557.5 Q326,557.5 326.2,560.5 L326.2,566 M314.5,560.5 Q320.4,563.5 326.2,560.5 M317.5,562.5 L317.5,567.5 M323.5,562.5 L323.5,567.5"/>
<path d="M317,570.5 L317,584 Q320.4,586.5 323.7,584 L323.7,570.5 M317,573.5 L323.7,574.5 M317,576.5 L323.7,577.5 M317,579.5 L323.7,580.5 M317,582.5 L323.7,583.5"/>
</g></g>
<path d="M361.7,560 L361.7,613" stroke-dasharray="24,2.5,1.5,2.5"/>
<path d="M320.4,589 L320.4,638" stroke-dasharray="24,2.5,1.5,2.5"/>
<!-- coil body -->
<path d="M322,622 L350,603 L358,605 L365,610"/>
<path d="M330,653 L365,635 Q369,629 368,623 L366,611"/>
<path d="M322,622 Q338,628 340,640 Q338,650 330,653"/>
<path d="M322,622 Q315,625 313,632"/>
<path d="M329,614 L352,602 L358,606 L336,618 Z"/>
<path d="M333,617 L337,620 L360,608"/>
<path d="M363,610 L371,613 L372,617 L376,619 L376,624 L371,626 L368,624 M371,613 L371,626"/>
<path d="M312,637 L323,630 L331,636 L331,645 L320,650 L312,645 Z M312,637 L320,642 L331,636 M320,642 L320,650"/>
<path d="M317,636 Q320,634 323,636 Q320,638 317,636 Z"/>
<!-- HT lead -->
<path d="M287,633 L310,622 M292,643 L315,632"/>
<path d="M300,628 Q306,628 307,634 Q306,638 302,639 M304,626 Q311,627 312,633"/>
<path d="M287,633 Q265,650 261,680 L258.5,717" stroke-dasharray="24,2.5,1.5,2.5"/>
<path d="M253,717 L253,738 L255,740 L255,762 Q258,764 262,762 L262,740 L264,738 L264,717"/>
<!-- plug cap 3 -->
<path d="M255,786 L256,773 Q259,771 263,773 L264,786"/>
<path d="M252,785 L252,813 Q253,820 259,822 M266,785 L266,810"/>
<path d="M253,788 Q259,791 266,788 M253,794 Q259,797 266,794 M253,799 Q259,802 266,799"/>
<path d="M259,811 L270,809 L284,817 Q287,828 280,833 Q273,833 259,823 Q256,815 259,811 Z"/>
<path d="M272,818 Q281,813 284,822 Q283,832 276,832 Q270,828 272,818 Z"/>
<path d="M275,824 Q277,820 280,823 Q279,827 276,827 Z"/>
<path d="M267,793 L288,791"/>
<!-- bolt 12 -->
<path d="M368,776 Q369,771 375,772 L380,773 Q384,776 382,782 L380,788 Q376,791 371,789 Q366,787 366,781 Z"/>
<path d="M370,774 Q367,780 370,787 M375,772 Q371,780 375,789"/>
<path d="M378,777 L390,784 M376,786 L388,792"/>
<path d="M390,784 Q393,787 388,792"/>
<path d="M380,778 Q378,783 379,787 M383,780 Q381,784 382,789 M386,781 Q384,786 385,790"/>
<path d="M370,789 L362,814"/>
<!-- connectors -->
<path d="M371,593 L380,588 L382,598 L373,603 Z M380,588 L392,584 L394,590 L382,598"/>
<path d="M388,607 L397,602 L398,613 L389,617 Z M397,602 L410,598 L411,604 L398,613"/>
<!-- coil wires -->
<path d="M393,585 Q412,572 432,581 Q441,592 440,626 Q444,650 456,665"/>
<path d="M392,588 Q412,576 430,584 Q437,595 437,626 Q441,652 453,667"/>
<path d="M410,599 Q428,590 440,604 Q445,620 446,640 Q449,655 458,665"/>
<path d="M410,602 Q426,594 437,607 Q441,622 442,640 Q446,657 455,667"/>
<!-- harness left stub -->
<path d="M408,683 Q405,693 412,701"/>
<path d="M408,683 L457,660 M412,701 L460,676"/>
<path d="M414,681 Q421,688 419,699 M422,677 Q430,685 428,696"/>
<!-- wires down to lugs -->
<path d="M457,668 Q436,688 426,712 Q420,735 419,750 Q414,770 401,784"/>
<path d="M455,666 Q433,686 423,712 Q417,735 416,750 Q411,770 397,782"/>
<path d="M459,670 Q440,690 430,714 Q424,737 423,752 Q418,772 405,788"/>
<path d="M460,672 Q444,692 435,714 Q428,740 426,760 Q423,775 411,788"/>
<path d="M462,674 Q448,694 440,714 Q432,740 430,760 Q427,777 414,790"/>
<path d="M455,677 Q442,700 440,730 Q442,760 444,766 Q440,784 430,795"/>
<path d="M458,677 Q445,700 443,730 Q445,760 447,766 Q443,786 433,797"/>
<path d="M393,786 L404,781 L412,789 L403,802 L396,800 Z"/>
<circle cx="400" cy="795" r="2"/>
<path d="M411,799 Q418,794 426,801 Q427,809 417,812 Q408,810 411,799 Z"/>
<circle cx="416" cy="805" r="2.5"/>
<path d="M421,800 L430,795 M424,804 L432,798"/>
<!-- brake switch 9 -->
<path d="M540,612 L540,700" stroke-dasharray="24,2.5,1.5,2.5"/>
<path d="M537,702 L537,728 M545,702 L545,728"/>
<path d="M531,732 Q540,727 551,732 L551,752 Q540,757 531,752 Z M537,729 L537,738 Q541,740 545,738 L545,729"/>
<path d="M528,754 Q540,749 553,754 L554,764 Q540,769 527,764 Z M527,758 Q540,763 554,758 M527,768 L554,768 L554,774 L527,774 Z"/>
<path d="M527,774 L531,782 L535,797 L547,797 L551,782 L555,774"/>
<path d="M535,778 L547,778 L547,790 L535,790 Z M538,778 L538,790 M544,778 L544,790"/>
<path d="M538,797 L536,808 L543,818 M544,797 L541,808 L546,816"/>
<path d="M537,821 L546,818 M537,824 L546,821 M537,827 L546,824 M537,830 L546,827 M537,833 L546,830 M537,836 L546,833"/><path d="M536.5,820 L536.5,836 M546.5,818 L546.5,834"/>
<path d="M543,836 L541,888 L515,930 Q509,932 506,922"/>
<path d="M545,836 L543,889 L517,932"/>
<path d="M504,784 L527,770"/>
</g>

<!-- ===== HARNESS CENTER ===== -->
<g id="harness">
<!-- main wrapped harness -->
<path d="M457,660 C475,647 500,632 533,618.3 L560,613.3 L580,608 L600,605.2 L644.4,594.1 Q665,585 683,574.8 L720,551.1"/>
<path d="M458.5,675 C475,663 495,648 510,640 Q525,633 536.7,630 L560,626.7 L580,623 L600,617.8 L643,607.4 Q665,599 683,589.6 L720,567.4"/>
<path d="M473,648 Q482,651 483,658 M474,649 Q478,655 476,663 M506.7,630 Q510,636 510,640 M521,623 Q526,628 525,635 M533,618 Q542,622 546.7,628 M537,619 L541,629"/>
<path d="M507,630.5 L510,640" stroke-width="1.8"/>
<path d="M558,613 Q565,617 566,627 M572,610 Q578,615 576,625 M588,607 Q592,612 590,621 M604,603 Q611,608 612,617 M620,599 Q625,604 623,614 L630,598 Q635,602 633,610 M636,595 L643,607 M648,590 Q654,596 656,604 M665,582 Q670,590 668,600 M679,575 Q684,582 682,592 M694,566 Q699,574 698,584 M710,557 Q713,565 711,573"/>
<!-- upper branch tube -->
<path d="M540,612 Q545,598 558,593 L578,591 L600,585 L612,578 M559,600 L577,596 L598,592 L620,589"/>
<path d="M610,575 L628,567 Q632,571 630,574 L613,582 Z M613,576 Q616,580 614,582"/>
<path d="M618,587 L630,582 L633,586 L621,591 Z M630,582 L634,580 L636,584 L633,586"/>
<path d="M577,591 Q580,594 578,597"/>
<!-- upper right connectors -->
<path d="M638.5,556 L652,550 Q656,552 655,556 L641,563 Q637,561 638.5,556 Z M642,554.5 Q645,558 643,562 M646,553 Q649,556 647,560"/>
<path d="M655,553 L673,544.5 Q680,538 688,537 Q700,534 721.5,535.6 L744.4,537"/>
<path d="M655,557 L674,549 Q681,544 689,542 Q700,540 723,541.5 L744.4,542.2"/>
<path d="M683,543 Q679,550 677,558.5 Q673,563 665.2,566 M686,543 Q682,551 680,560 Q675,566 665.5,570"/>
<path d="M645,572 L662,565 Q667,568 665,573 L648,580 Q642,578 645,572 Z M648,572 Q650,576 648,580"/>
<!-- loop under harness -->
<path d="M744.4,537 Q746,552 741,563 Q737,570 724.4,576.3 M744.4,542.2 Q743,556 739,565 Q734,572 722,580"/>
<!-- harness right section -->
<path d="M722,549 L744.4,539.3 M722,564.4 L740.7,555.6"/>
<path d="M727,550 Q731,556 730,562 M727,551 L740,548"/>
<!-- lower connector wire -->
<path d="M641.5,608.9 Q665,602 689,596 M643,611 Q665,605 690,599"/>
<path d="M689,586 L713,578 Q717,581 715.6,585 L692,597 Q686,593 689,586 Z M705,580 L708,590 M709,579 L712,588"/>
<path d="M715.6,582.2 L720,579.3 M716,586 L720,583.5"/>
<!-- right thin harness -->
<path d="M748,533 L818,500 M748,550 L822,516"/>
<path d="M818,497 L819,520 Q824,510 818,500 M770,523 Q773,530 770,541 M787,515 Q795,522 785,533 M805,507 Q810,513 807,525 M764,527 Q770,533 778,534 M752,540 Q758,544 760,546"/>
<!-- 10 bracket -->
<path d="M721.5,454.5 L783,454.5 L795,509"/>
<path d="M721.5,454.5 L721.5,634 L716,638"/>
<path d="M746.5,445 L746.5,651 L717,682"/>
<!-- cable tie 13 -->
<path d="M561,540 L568,537 L572,540 L572,545 L565,548 L561,546 Z M561,540 L565,543 L572,540 M565,543 L565,548"/>
<path d="M563,546 L563,676 Q566,680 569,676 L570,546 M566,547 L566,674"/>
<path d="M572,538 L590,517"/>
<!-- dash dot at harness -->
<path d="M539.5,630 L539.5,690" stroke-width="1" stroke-dasharray="24,2.5,1.5,2.5"/>
<!-- wires down from harness -->
<path d="M640,608 Q618,622 610,640 Q601,665 600,700 L599,780 Q600,830 621.7,873.3 Q640,893 660,895.8 Q680,897 690,888 Q703,875 706.7,851.7"/>
<path d="M643,609 Q622,624 614,642 Q605,667 604,700 L602.5,780 Q603,828 624,870 Q642,889 661,892 Q679,893 687,886 Q700,873 703.5,851"/>
<path d="M633,613 Q628,625 630,640 Q640,660 640,700 L640,716 M636,612 Q631,626 633,640 Q643,660 643,700 L643,716"/>
<!-- negative cable big arc -->
<path d="M596,910 L586,850 L579,790 Q575,745 580,715 Q587,692 605,678 L638,663 Q660,652 677,641 L700,623 Q725,603 752,594 Q767,597 770,610 L772,628"/>
<path d="M584,746 Q583,790 586,810 L590,856 L600,910 M596,910 L600,922 L605,921 L600,910"/>
<path d="M596,911 L604,909 L606,918 L598,921 Z"/>
<path d="M599,923 Q605,918 609,925 Q610,934 602,936 Q597,933 599,923 Z M602,928 Q605,926 606,930"/>
<!-- battery terminal lead 5 -->
<path d="M768,627 L768,661 Q770,667 773,668 M771,627 L771,660 M774,630 L775,660"/>
<path d="M767,663 Q772,659 779,662 L780,670 Q773,673 768,670 Z"/>
<path d="M775,650 L783,645 L785,655 L777,661 Z"/>
<circle cx="782" cy="648" r="1.8"/>
<path d="M785,643 L800,629"/>
<path d="M785,649 L800,657 L801,720 L806,724" stroke-dasharray="24,2.5,1.5,2.5"/>
<!-- fuse 11 -->
<path d="M669,662 L682,656 L684,661 L671,667 Z M671,667 L672,673 L684,667 L684,661 M672,673 L672,680 M675,672 L676,679"/>
<path d="M684,661 L695,654"/>
<!-- battery tray -->
<path d="M611,735 L707,680 L710,680 L747,700 L747,703"/>
<path d="M614,736 L707,683 L745,703"/>
<path d="M629,742 L708,698 L744,717"/>
<path d="M611,735 L612,755 L645,773 M611,735 L645,755"/>
<path d="M708,685 L708,695"/>
<path d="M643,755 L645,780 L660,782 L660,759 L655,755 M650,758 L651,780"/>
<path d="M743,700 L743,722 L757,726 L757,700 M752,702 L766,699 L766,713 L757,716 M757,692 L766,692 L766,699"/>
<path d="M645,692 L660,686 L665,690 L665,705 L650,710 L645,706 Z M645,692 L650,696 L665,690 M650,696 L650,710"/>
<path d="M668,696 L675,693 L677,697 L670,700 Z M680,686 L688,684 L690,690 L682,692 Z"/>
<path d="M636,710 L636,716 L642,716 L642,710 Z"/>
<path d="M641,730 Q640,746 648,750 Q656,748 656,730 M643,730 Q643,743 648,746 Q653,744 653,730"/>
<!-- positive cap -->
<path d="M687,750 Q695,738 708,732 L728,740 L728,753 L713,759 L700,760 L700,777 Q694,780 687,777 Z"/>
<path d="M687,750 Q700,752 713,745 L728,740 M713,745 L713,759"/>
<path d="M708,740 Q713,737 716,741 Q713,745 709,744 Z M710,742 L714,740"/>
<!-- tray wires -->
<path d="M650,781 Q648,810 660,818 Q678,822 688,805 Q691,792 692,778 M653,782 Q652,808 662,815 Q677,818 685,803 Q688,792 689,778"/>
<path d="M694,778 L694,800 Q682,815 681,832 Q683,848 700,849 M697,778 L697,801 Q686,816 685,832 Q687,845 700,846"/>
<!-- 4 pin connector -->
<path d="M695,830 L707,823 L724,833 L712,841 Z M695,830 L695,843 L712,853 L724,846 L724,833 M712,841 L712,853"/>
<path d="M701,826 L718,836 M701,837 L713,830"/>
<path d="M708,853 Q706,880 690,893 Q676,903 655,914 M711,853 Q709,882 694,895 Q680,906 660,917 M713,853 Q712,884 698,897 Q684,908 665,918"/>
<path d="M676,903 L677,908 M678,902 L679,907"/>
<path d="M633,924 L645,917 L652,921 L640,928 Z M633,924 L633,934 L640,937 L652,931 M640,928 L640,937 L652,929"/>
</g>

<!-- ===== BATTERY ===== -->
<g id="battery">
<!-- body -->
<path d="M732.5,791 L733,849 L784.2,878 L871.7,828.3 L871.5,771.7"/>
<path d="M785.3,818.3 L784.2,878"/>
<path d="M732.2,791.1 L785.3,818.3 L871.4,771.7"/>
<path d="M732.2,788.2 L785.3,815.5 L872.8,767.4 L872.8,760.2 L868.5,757"/>
<path d="M730.7,782.5 L730.7,786 L732.2,791"/>
<path d="M730.7,782.5 Q731,779 735,778 L737,778 M746.5,787 L785.3,809.7 L872.8,760.2 L872.8,767.4"/>
<path d="M785.3,801.1 L785.3,818"/>
<!-- top face -->
<path d="M746.5,779.6 L785.3,799.7 L867,753 Q870,751 868.5,749.4 L832.6,727.9 L829,730"/>
<path d="M751.5,762.4 L751.5,758.1 L786.7,738.7 L799.6,745.9 L806,742"/>
<path d="M758,758.1 L786.7,741.5 L802.5,748.7 L825,736 M831.2,731.5 L849.9,741.5 L838.4,748 M849.9,741.5 Q854,744 850,747"/>
<path d="M753,776.7 L766.6,767.4 L767,764 L758,759 M753,776.7 L769.5,786.8 L782.4,780.3"/>
<path d="M773.8,773.8 L828.3,742.3 L845.5,752.3 L790.3,783.9 Z"/>
<circle cx="765.9" cy="758.1" r="3.5"/>
<path d="M763.5,758.1 L768.3,758.1 M765.9,755.7 L765.9,760.5"/>
<!-- terminal left -->
<path d="M737.2,767.4 L746.5,762.4 L755.9,767.4 L746.5,772.4 Z"/>
<path d="M737.2,767.4 L738,779 L746.5,784.5 L746.5,772.4 M755.9,767.4 L755.9,772 L760,770"/>
<path d="M746.5,784.5 L746.5,787"/>
<path d="M743.5,767.4 Q746.5,765 749.5,767.4 Q746.5,769.8 743.5,767.4 Z"/>
<path d="M739.5,773 L743,775 L743,780 L739.5,778 Z"/>
<path d="M725,761 L735,766" stroke-dasharray="6,2"/>
<!-- terminal right -->
<path d="M805.4,727.2 L815.4,721.5 L825.5,726.5 L815.4,732.2 Z"/>
<path d="M805.4,727.2 L806,740.5 L815.4,738 L815.4,732.2 M825.5,726.5 L825.5,731.5"/>
<path d="M812,727 Q815.4,724.5 819,727 Q815.4,729.5 812,727 Z"/>
<path d="M807.5,731.5 L811.5,733.5 L811.5,738.5 L807.5,736.5 Z"/>
<path d="M826,856 L835,897"/>
</g>

<!-- ===== FWD ===== -->
<g id="fwd">
<path d="M273.3,914.9 L288.6,891.3 L291.9,893 L292.4,895.2 L315.2,883.3 L319.1,885.2 M292.4,919.1 L292.4,926.3 L277.4,916.3 L273.3,914.9"/>
<path d="M292.4,895.2 L292.4,900.8"/>
<path d="M277.7,915.8 L291.3,894.7 M293,899.7 L316.9,886.3" stroke-dasharray="3,1.2"/>
<path d="M319.4,885.2 L319.4,904.4 L292.4,919.1" stroke-width="1.6"/>
</g>
<g fill="#000" stroke="none">
<text transform="translate(292,917) skewY(-23) scale(0.56,1)" font-size="17" font-weight="bold" textLength="44" lengthAdjust="spacingAndGlyphs">FWD</text>
</g>

<!-- ===== LABELS ===== -->
<g stroke="none" fill="#000" font-size="13.5">
<text transform="translate(294.8,90.0) scale(1.35,1)">8</text>
<text transform="translate(256.5,211.7) scale(1.35,1)">8</text>
<text transform="translate(444.8,115.8) scale(1.35,1)">7</text>
<text transform="translate(437.9,393.9) scale(1.35,1)">6</text>
<text transform="translate(744.8,197.0) scale(1.35,1)">12</text>
<text transform="translate(388.5,530.0) scale(1.35,1)">2</text>
<text transform="translate(274.2,561.9) scale(1.35,1)">2</text>
<text transform="translate(274.9,611.9) scale(1.35,1)">1</text>
<text transform="translate(291.6,795.6) scale(1.35,1)">3</text>
<text transform="translate(348.6,827.4) scale(1.35,1)">12</text>
<text transform="translate(494.0,795.8) scale(1.35,1)">9</text>
<text transform="translate(582.8,513.0) scale(1.35,1)">13</text>
<text transform="translate(736.5,441.0) scale(1.35,1)">10</text>
<text transform="translate(696.5,651.0) scale(1.35,1)">11</text>
<text transform="translate(800.7,628.3) scale(1.35,1)">5</text>
<text transform="translate(830.8,910.0) scale(1.35,1)">4</text>
<text transform="translate(249,946.7) scale(1.415,1)" font-size="11.3">BF21261-S380</text>
</g>
</g>
</svg>
</body></html>
